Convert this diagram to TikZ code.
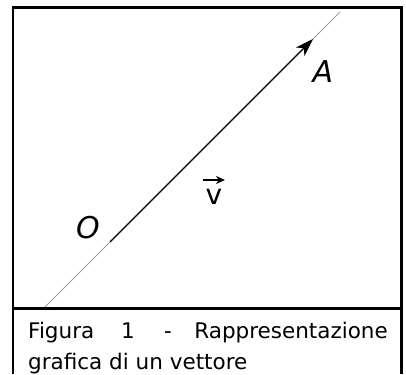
\documentclass[tikz,border=0pt]{standalone}
\usepackage{fontspec}
\setmainfont{DejaVu Sans}
\usetikzlibrary{arrows.meta}
\begin{document}
\begin{tikzpicture}[x=1pt,y=-1pt,
  frame/.style={line width=2.4pt,black},
  guide/.style={line width=1pt,black!38},
  vecline/.style={line width=1.1pt,black,-{Stealth[length=18pt,width=12pt,inset=5pt]}},
  caption/.style={inner sep=0pt,font=\fontsize{21.5}{24}\selectfont},
  pointlabel/.style={inner sep=0pt,font=\fontsize{30}{32}\selectfont\itshape}]
\useasboundingbox (0,0) rectangle (406,374);
\fill[white] (0,0) rectangle (406,374);
% frame
\draw[frame] (13,374) -- (13,7.5) -- (401.5,7.5) -- (401.5,374);
\draw[frame] (13,308.5) -- (401.5,308.5);
% line and vector
\coordinate (P0) at (45,307);
\coordinate (P1) at (340,12);
\coordinate (Ostart) at (110,242);
\coordinate (Atip) at (313,39);
\draw[guide] (P0) -- (P1);
\draw[vecline] (Ostart) -- (Atip);
% labels
\node[pointlabel] (A) at (323,72) {A};
\node[pointlabel] (O) at (88,228) {O};
\node[inner sep=0pt,font=\fontsize{28}{30}\selectfont] (v) at (214,197) {v};
\coordinate (vl) at (203,180);
\coordinate (vr) at (225,180);
\draw[line width=2pt,-{Stealth[length=9pt,width=8pt]}] (vl) -- (vr);
% caption
\node[caption,anchor=base west] (fig) at (28,338) {Figura};
\node[caption,anchor=base] (one) at (128,338) {1};
\node[caption,anchor=base] (dash) at (168,338) {-};
\node[caption,anchor=base east] (rap) at (388,338) {Rappresentazione};
\node[caption,anchor=base west] (graf) at (28,369) {grafica di un vettore};
\end{tikzpicture}
\end{document}
